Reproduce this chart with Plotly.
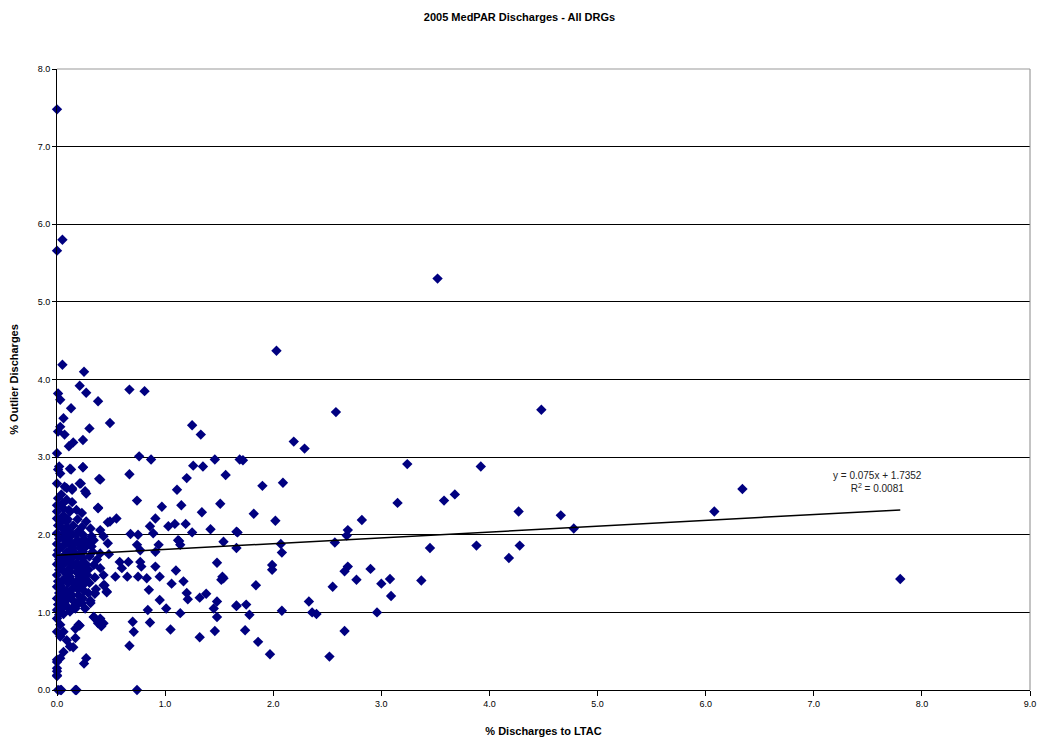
import plotly.graph_objects as go

title_text = "2005 MedPAR Discharges - All DRGs"
x_title = "% Discharges to LTAC"
y_title = "% Outlier Discharges"

# Scatter points: (% discharges to LTAC, % outlier discharges)
x_outer = [0.00, 0.00, 0.05, 0.05, 0.25, 2.03, 3.52, 4.48, 2.58,
           0.21, 0.27, 0.01, 0.03, 0.38, 0.67, 0.81, 0.13, 0.06, 0.49, 0.30, 0.03, 0.01,
           0.07, 0.24, 0.15, 0.11, 1.25, 1.33, 0.00, 0.76, 0.87, 1.46, 1.69, 0.02, 0.13,
           0.24, 0.03, 0.40, 0.67, 1.26, 1.35, 1.20, 1.56, 0.00, 0.22, 0.09, 0.14, 0.27,
           1.11, 0.74, 1.15, 0.97, 1.51, 1.34, 0.38, 0.91, 0.55, 0.47, 1.19, 0.86, 1.03,
           1.09, 1.42, 1.66, 1.25, 0.68, 0.75, 0.89, 1.12, 1.54, 0.47, 0.23, 0.94, 0.74,
           0.40, 0.91, 0.58, 0.66, 0.77, 1.48, 0.60, 0.78, 0.91, 0.54, 0.65, 0.75, 0.83,
           0.95, 1.10, 1.53, 1.52, 0.44, 1.06, 1.17, 0.85, 0.35, 0.46, 1.20, 1.21, 1.32,
           1.38, 1.48, 0.95, 1.66, 1.45, 0.84, 1.01, 1.14, 0.12, 1.48, 0.34, 0.38, 0.41,
           0.21, 0.86, 0.70, 1.05, 1.46, 0.71, 1.32, 0.15, 0.67, 0.27, 0.25, 0.74, 0.18,
           0.03, 0.00, 0.00, 0.00]
y_outer = [7.48, 5.66, 5.80, 4.19, 4.10, 4.37, 5.30, 3.61, 3.58,
           3.92, 3.83, 3.82, 3.74, 3.72, 3.87, 3.85, 3.63, 3.50, 3.44, 3.37, 3.39, 3.33,
           3.29, 3.22, 3.19, 3.14, 3.41, 3.29, 3.05, 3.01, 2.97, 2.97, 2.97, 2.88, 2.84,
           2.87, 2.79, 2.71, 2.78, 2.89, 2.88, 2.73, 2.77, 2.66, 2.66, 2.60, 2.60, 2.53,
           2.58, 2.44, 2.38, 2.36, 2.40, 2.29, 2.34, 2.21, 2.21, 2.16, 2.14, 2.11, 2.11,
           2.14, 2.07, 2.04, 2.03, 2.01, 2.00, 2.02, 1.93, 1.91, 1.89, 1.89, 1.87, 1.87,
           1.76, 1.78, 1.65, 1.65, 1.65, 1.64, 1.57, 1.59, 1.59, 1.46, 1.46, 1.46, 1.44,
           1.46, 1.54, 1.46, 1.42, 1.35, 1.37, 1.40, 1.29, 1.24, 1.26, 1.25, 1.17, 1.19,
           1.24, 1.14, 1.16, 1.08, 1.05, 1.03, 1.05, 0.99, 1.01, 0.94, 0.94, 0.86, 0.82,
           0.83, 0.87, 0.88, 0.78, 0.76, 0.75, 0.68, 0.55, 0.57, 0.41, 0.34, 0.00, 0.00,
           0.00, 0.39, 0.24, 0.18]

x_mid = [2.19, 2.29, 1.72, 1.90, 2.09, 3.24, 1.82, 2.02, 3.15, 3.58, 3.68, 2.82, 1.67,
         1.66, 2.07, 2.08, 2.57, 2.69, 2.68, 3.45, 1.99, 1.99, 1.54, 1.84, 2.69, 2.66,
         2.90, 2.77, 2.55, 3.00, 3.08, 3.37, 3.09, 1.66, 1.75, 1.78, 2.08, 2.33, 2.36,
         2.40, 2.96, 1.74, 1.86, 1.97, 2.66, 2.52, 3.92, 4.27, 4.66, 4.78, 6.08, 6.34,
         3.88, 4.28, 4.18, 7.80, 1.13, 1.14]
y_mid = [3.20, 3.11, 2.96, 2.63, 2.67, 2.91, 2.27, 2.18, 2.41, 2.44, 2.52, 2.19, 2.03,
         1.83, 1.88, 1.77, 1.90, 2.06, 1.99, 1.83, 1.61, 1.55, 1.44, 1.35, 1.59, 1.53,
         1.56, 1.42, 1.33, 1.37, 1.43, 1.41, 1.21, 1.09, 1.10, 0.97, 1.02, 1.14, 1.00,
         0.98, 1.00, 0.77, 0.62, 0.46, 0.76, 0.43, 2.88, 2.30, 2.25, 2.08, 2.30, 2.59,
         1.86, 1.86, 1.70, 1.43, 1.92, 1.87]

x_dense = [0.01, 0.12, 0.24, 0.39, 0.07, 0.14, 0.21, 0.26, 0.01, 0.00, 0.38, 0.06, 0.12,
           0.18, 0.23, 0.49, 0.00, 0.03, 0.09, 0.27, 0.23, 0.31, 0.40, 0.43, 0.12, 0.18,
           0.12, 0.21, 0.34, 0.32, 0.77, 0.12, 0.17, 0.24, 0.48, 0.00, 0.04, 0.09, 0.24,
           0.34, 0.40, 0.43, 0.12, 0.18, 0.21, 0.12, 0.43, 0.46, 0.35, 0.27, 0.24, 0.31,
           0.21, 0.15, 0.34, 0.38, 0.43, 0.40, 0.00, 0.03, 0.00, 0.06, 0.03, 0.20, 0.17,
           0.09, 0.12, 0.17, 0.06, 0.03, 0.00, 0.00, 0.00, 0.01, 0.04, 0.17,
           0.00, 0.01, 0.00, 0.02, 0.00, 0.01, 0.00, 0.02, 0.00, 0.01, 0.00, 0.02, 0.00,
           0.01, 0.00, 0.02, 0.05, 0.06, 0.05, 0.07, 0.05, 0.06, 0.05, 0.07, 0.05, 0.06,
           0.05, 0.07, 0.05, 0.06, 0.09, 0.10, 0.09, 0.10, 0.09, 0.10, 0.09, 0.10, 0.09,
           0.10, 0.09, 0.14, 0.15, 0.14, 0.15, 0.14, 0.15, 0.14, 0.15, 0.14, 0.15, 0.19,
           0.20, 0.19, 0.20, 0.19, 0.20, 0.19, 0.20, 0.19, 0.24, 0.25, 0.24, 0.25, 0.24,
           0.25, 0.24, 0.26, 0.29, 0.30, 0.29, 0.30, 0.29, 0.31, 0.33, 0.35, 0.36, 0.37,
           0.03, 0.07, 0.11, 0.17, 0.22, 0.27, 0.32, 0.03, 0.08, 0.12, 0.17, 0.22, 0.28,
           0.03, 0.07, 0.12, 0.17, 0.21, 0.27, 0.02, 0.08, 0.13, 0.18, 0.23, 0.04, 0.11]
y_dense = [2.84, 2.85, 2.87, 2.72, 2.62, 2.58, 2.66, 2.56, 2.47, 2.38, 2.35, 2.34, 2.30,
           2.32, 2.28, 2.17, 2.21, 2.15, 2.17, 2.17, 2.10, 2.08, 2.06, 1.98, 2.04, 2.00,
           1.91, 1.87, 1.93, 1.85, 1.80, 1.80, 1.76, 1.78, 1.75, 1.74, 1.70, 1.65, 1.65,
           1.61, 1.57, 1.48, 1.57, 1.52, 1.46, 1.46, 1.35, 1.27, 1.25, 1.42, 1.35, 1.12,
           1.16, 1.07, 0.94, 0.88, 0.86, 0.92, 0.92, 0.84, 0.75, 0.75, 0.69, 0.84, 0.79,
           0.64, 0.56, 0.67, 0.49, 0.41, 0.36, 0.28, 0.19, 0.00, 0.00, 0.00,
           2.30, 2.12, 2.02, 1.95, 1.88, 1.80, 1.62, 1.55, 1.48, 1.40, 1.33, 1.25, 1.18,
           1.10, 1.03, 0.97, 2.40, 2.25, 2.08, 1.98, 1.85, 1.72, 1.60, 1.52, 1.41, 1.30,
           1.20, 1.12, 1.05, 0.98, 2.45, 2.20, 2.10, 1.95, 1.78, 1.68, 1.50, 1.38, 1.28,
           1.18, 1.08, 2.42, 2.12, 2.00, 1.83, 1.70, 1.62, 1.40, 1.32, 1.22, 1.15, 2.20,
           2.05, 1.93, 1.72, 1.58, 1.43, 1.30, 1.22, 1.10, 2.00, 1.95, 1.70, 1.52, 1.42,
           1.28, 1.18, 1.05, 1.90, 1.72, 1.55, 1.38, 1.25, 1.15, 1.78, 1.45, 1.30, 1.68,
           2.18, 2.03, 1.88, 1.90, 1.82, 1.85, 1.98, 1.35, 1.45, 1.52, 1.36, 1.58, 1.48,
           1.12, 1.22, 1.27, 1.05, 1.38, 1.62, 1.68, 1.92, 1.76, 1.63, 1.12, 2.52, 2.32]

# Linear trend line reported on the chart
trend_slope = 0.075
trend_intercept = 1.7352
trend_label = "y = 0.075x + 1.7352<br>R<sup>2</sup> = 0.0081"

x_ticks = [0, 1, 2, 3, 4, 5, 6, 7, 8, 9]
x_tick_text = ["0.0", "1.0", "2.0", "3.0", "4.0", "5.0", "6.0", "7.0", "8.0", "9.0"]
y_ticks = [0, 1, 2, 3, 4, 5, 6, 7, 8]
y_tick_text = ["0.0", "1.0", "2.0", "3.0", "4.0", "5.0", "6.0", "7.0", "8.0"]

xs = x_outer + x_mid + x_dense
ys = y_outer + y_mid + y_dense

navy = "#000080"
fnt = "Liberation Sans, Arial, sans-serif"

fig = go.Figure()
fig.add_trace(go.Scatter(
    x=xs, y=ys, mode="markers",
    marker=dict(symbol="diamond", size=8, color=navy, line=dict(width=0)),
    showlegend=False, hoverinfo="x+y", cliponaxis=False))

x0, x1 = min(xs), max(xs)
fig.add_trace(go.Scatter(
    x=[x0, x1], y=[trend_slope * x0 + trend_intercept, trend_slope * x1 + trend_intercept],
    mode="lines", line=dict(color="black", width=1.5), showlegend=False, hoverinfo="skip"))

fig.add_annotation(x=7.59, y=2.68, text=trend_label, showarrow=False,
                   font=dict(family=fnt, size=10, color="#222222"), align="center")

fig.update_layout(
    width=1039, height=740,
    paper_bgcolor="white", plot_bgcolor="white",
    margin=dict(l=57, r=9, t=69, b=50, autoexpand=False),
    title=dict(text="<b>" + title_text + "</b>", x=0.5, xanchor="center",
               yref="container", y=1 - 17 / 740, yanchor="middle",
               font=dict(family=fnt, size=11, color="black")),
    font=dict(family=fnt, size=9, color="black"),
    xaxis=dict(range=[0, 9], tickvals=x_ticks, ticktext=x_tick_text, showgrid=False, zeroline=False,
               showline=True, linecolor="black", linewidth=1, ticks="outside", ticklen=5,
               tickcolor="black", mirror=False, automargin=False,
               title=dict(text="<b>" + x_title + "</b>", font=dict(family=fnt, size=11), standoff=19)),
    yaxis=dict(range=[0, 8], tickvals=y_ticks, ticktext=y_tick_text, showgrid=True, gridcolor="black",
               gridwidth=1, zeroline=False, showline=True, linecolor="black", linewidth=1,
               ticks="outside", ticklen=4, tickcolor="black", automargin=False,
               title=dict(text="<b>" + y_title + "</b>", font=dict(family=fnt, size=11), standoff=16)),
    shapes=[
        dict(type="line", xref="paper", yref="paper", x0=1, x1=1, y0=0, y1=1,
             line=dict(color="#888888", width=1)),
        dict(type="line", xref="paper", yref="paper", x0=0, x1=1, y0=1, y1=1,
             line=dict(color="#999999", width=1)),
    ],
)

fig.write_html("out.html", config={"displayModeBar": False},
               post_script="document.body.style.margin='0';document.body.style.padding='0';")
